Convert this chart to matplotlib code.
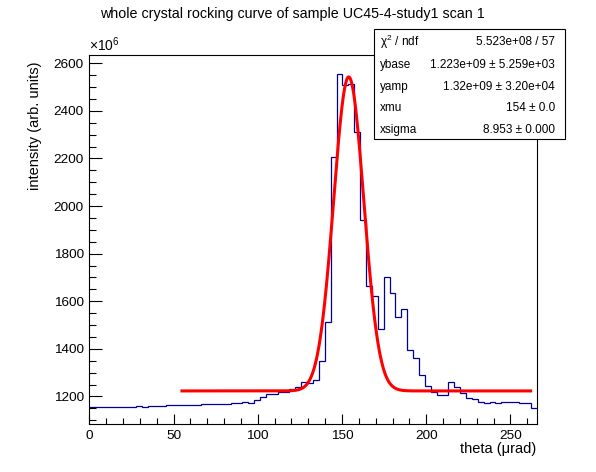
import numpy as np
import matplotlib
matplotlib.use("Agg")
import matplotlib.pyplot as plt
from matplotlib.patches import Rectangle
from matplotlib.ticker import MultipleLocator

plt.rcParams['font.family'] = ['Liberation Sans', 'DejaVu Sans']
plt.rcParams['mathtext.fontset'] = 'custom'
plt.rcParams['mathtext.rm'] = 'Liberation Sans'
plt.rcParams['mathtext.it'] = 'Liberation Sans'

# histogram: 76 bins from 0 to 265.6 urad, counts in units of 1e6
x_lo, x_hi, n_bins = 0.0, 265.6, 76
counts = [1155, 1155, 1155, 1155, 1155, 1155, 1155, 1155, 1159, 1155,
          1159, 1159, 1159, 1163, 1163, 1163, 1163, 1163, 1163, 1166,
          1166, 1166, 1166, 1170, 1174, 1174, 1177, 1174, 1185, 1199,
          1209, 1208, 1220, 1220, 1230, 1238, 1259, 1258, 1267, 1347,
          1512, 2205, 2554, 2509, 2512, 2313, 1942, 1664, 1621, 1482,
          1703, 1636, 1535, 1566, 1395, 1360, 1290, 1244, 1220, 1206,
          1206, 1260, 1239, 1216, 1192, 1188, 1176, 1173, 1176, 1173,
          1176, 1176, 1178, 1173, 1173, 1153]

# gaussian + constant fit
ybase = 1223.0
yamp = 1320.0
xmu = 154.0
xsigma = 8.953
fit_range = (55.0, 262.0)

stat_names = ["χ$^{2}$ / ndf", "ybase", "yamp", "xmu", "xsigma"]
stat_values = ["5.523e+08 / 57", "1.223e+09 ± 5.259e+03",
               "1.32e+09 ± 3.20e+04", "154 ± 0.0", "8.953 ± 0.000"]

W, H = 596, 472
fig = plt.figure(figsize=(W / 100, H / 100), dpi=100)
ax = fig.add_axes([89.3 / W, 1 - 424 / H, (536.7 - 89.3) / W, (424 - 55) / H])

edges = np.linspace(x_lo, x_hi, n_bins + 1)
ax.stairs(counts, edges, baseline=None, color='#000099', lw=0.9)

xf = np.linspace(fit_range[0], fit_range[1], 600)
yf = ybase + yamp * np.exp(-0.5 * ((xf - xmu) / xsigma) ** 2)
ax.plot(xf, yf, color='#ff0000', lw=2.2)

ax.set_xlim(x_lo, x_hi)
ax.set_ylim(1084, 2635)
ax.xaxis.set_major_locator(MultipleLocator(50))
ax.xaxis.set_minor_locator(MultipleLocator(10))
ax.yaxis.set_major_locator(MultipleLocator(200))
ax.yaxis.set_minor_locator(MultipleLocator(50))
ax.tick_params(which='both', direction='in', top=False, right=False,
               labelsize=9.7, width=0.8)
ax.tick_params(axis='x', which='major', length=7.5, pad=4)
ax.tick_params(axis='x', which='minor', length=4)
ax.tick_params(axis='y', which='major', length=9.5, pad=4)
ax.tick_params(axis='y', which='minor', length=5)
for sp in ax.spines.values():
    sp.set_linewidth(0.8)

fig.text(292 / W, 1 - 14 / H, "whole crystal rocking curve of sample UC45-4-study1 scan 1",
         ha='center', va='center', fontsize=10.3)
fig.text(536 / W, 1 - 449 / H, "theta (μrad)", ha='right', va='center', fontsize=10.5)
fig.text(35 / W, 1 - 62 / H, "intensity (arb. units)", ha='center', va='top',
         rotation=90, fontsize=10.5)
fig.text(89 / W, 1 - 54 / H, r"×10$^{6}$", ha='left', va='bottom', fontsize=10)

# stats box
bx0, by0, bx1, by1 = 374, 29, 564.5, 138.5
fig.patches.append(Rectangle((bx0 / W, 1 - by1 / H), (bx1 - bx0) / W, (by1 - by0) / H,
                             transform=fig.transFigure, facecolor='white',
                             edgecolor='black', lw=0.8, zorder=5))
row_y = [41.7, 65, 86.7, 108.3, 130]
for name, val, ry in zip(stat_names, stat_values, row_y):
    fig.text(380 / W, 1 - ry / H, name, ha='left', va='center', fontsize=8.5, zorder=6)
    fig.text(555 / W, 1 - ry / H, val, ha='right', va='center', fontsize=8.5, zorder=6)

fig.savefig("out.png", dpi=100)
